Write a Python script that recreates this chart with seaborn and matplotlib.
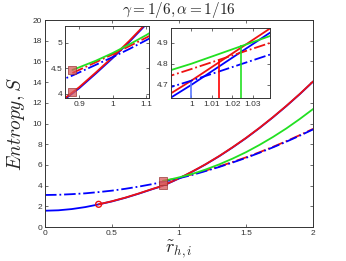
import numpy as np
import matplotlib
matplotlib.use("Agg")
import matplotlib.pyplot as plt
import seaborn as sns

# ---- data ----
x_all = [0, 0.1, 0.2, 0.3, 0.4, 0.5, 0.6, 0.7, 0.8, 0.85, 0.88, 0.9, 0.95,
         1.0, 1.05, 1.1, 1.15, 1.2, 1.3, 1.4, 1.5, 1.6, 1.7, 1.8, 1.9, 2.0]
blue_solid = [1.58, 1.62, 1.74, 1.93, 2.19, 2.48, 2.83, 3.23, 3.66, 3.86, 4.01, 4.11, 4.40,
              4.70, 5.02, 5.36, 5.71, 6.07, 6.85, 7.70, 8.60, 9.57, 10.60, 11.69, 12.84, 14.06]
blue_dash = [3.10, 3.12, 3.18, 3.26, 3.38, 3.52, 3.70, 3.91, 4.15, 4.28, 4.36, 4.42, 4.57,
             4.72, 4.88, 5.05, 5.23, 5.42, 5.81, 6.24, 6.69, 7.18, 7.70, 8.25, 8.83, 9.44]

x_red = [0.4, 0.5, 0.6, 0.7, 0.8, 0.85, 0.88, 0.9, 0.95, 1.0, 1.05, 1.1, 1.15,
         1.2, 1.3, 1.4, 1.5, 1.6, 1.7, 1.8, 1.9, 2.0]
red_solid = [2.20, 2.50, 2.85, 3.25, 3.68, 3.88, 4.03, 4.13, 4.42, 4.72, 5.04, 5.38, 5.73,
             6.09, 6.87, 7.72, 8.62, 9.59, 10.62, 11.71, 12.86, 14.08]

x_up = [0.88, 0.9, 0.95, 1.0, 1.05, 1.1, 1.15, 1.2, 1.3, 1.4, 1.5, 1.6, 1.7, 1.8, 1.9, 2.0]
green_solid = [4.47, 4.52, 4.65, 4.80, 4.97, 5.15, 5.35, 5.57, 6.06, 6.62, 7.24, 7.94,
               8.70, 9.53, 10.44, 11.41]
red_dash = [4.41, 4.47, 4.62, 4.775, 4.935, 5.10, 5.28, 5.47, 5.86, 6.29, 6.74, 7.23,
            7.75, 8.30, 8.88, 9.49]

circle_x, circle_y = [0.4], [2.2]
square_x, square_y = [0.88, 0.88], [4.03, 4.47]

# crossing markers in the right inset
cross_x = [1.0, 1.0135, 1.0245]
cross_y = [4.715, 4.82, 4.89]
cross_col = ["#5a78ff", "red", "#22e022"]

main_xticks = [0, 0.5, 1, 1.5, 2]
main_xlabels = ["0", "0.5", "1", "1.5", "2"]
main_yticks = [0, 2, 4, 6, 8, 10, 12, 14, 16, 18, 20]

in1_xticks, in1_xlabels = [0.9, 1.0, 1.1], ["0.9", "1", "1.1"]
in1_yticks, in1_ylabels = [4, 4.5, 5], ["4", "4.5", "5"]
in2_xticks, in2_xlabels = [1.0, 1.01, 1.02, 1.03], ["1", "1.01", "1.02", "1.03"]
in2_yticks, in2_ylabels = [4.7, 4.8, 4.9], ["4.7", "4.8", "4.9"]

BLUE, RED, GREEN = "#0000ff", "#ee1111", "#22e022"

sns.set_style("ticks")
plt.rcParams["font.family"] = ["Liberation Sans", "DejaVu Sans"]
plt.rcParams["mathtext.fontset"] = "cm"
plt.rcParams["xtick.direction"] = "in"
plt.rcParams["ytick.direction"] = "in"
plt.rcParams["xtick.top"] = True
plt.rcParams["ytick.right"] = True


def draw_curves(ax, lw):
    sns.lineplot(x=x_all, y=blue_solid, ax=ax, color=BLUE, lw=lw, estimator=None, sort=False)
    sns.lineplot(x=x_red, y=red_solid, ax=ax, color=RED, lw=lw, estimator=None, sort=False)
    sns.lineplot(x=x_up, y=red_dash, ax=ax, color=RED, lw=lw, linestyle="-.", estimator=None, sort=False)
    sns.lineplot(x=x_all, y=blue_dash, ax=ax, color=BLUE, lw=lw, linestyle="-.", estimator=None, sort=False)
    sns.lineplot(x=x_up, y=green_solid, ax=ax, color=GREEN, lw=lw, estimator=None, sort=False)
    ax.scatter(square_x, square_y, marker="s", s=28, facecolor=(0.85, 0.35, 0.35, 0.75),
               edgecolor=(0.6, 0.2, 0.2, 0.8), lw=0.6, zorder=5)
    ax.scatter(circle_x, circle_y, marker="o", s=18, facecolor="none", edgecolor=RED, lw=1.0, zorder=5)


def style_axes(ax, size):
    for s in ax.spines.values():
        s.set_linewidth(0.7)
        s.set_color("#333333")
    ax.tick_params(labelsize=size, length=2.5, width=0.5, colors="#333333", pad=2)


fig = plt.figure(figsize=(3.46, 2.61), dpi=100)

ax = fig.add_axes([0.130, 0.130, 0.775, 0.793])
draw_curves(ax, 1.3)
ax.set_xlim(0, 2)
ax.set_ylim(0, 20)
ax.set_xticks(main_xticks, main_xlabels)
ax.set_yticks(main_yticks)
style_axes(ax, 6)
ax.set_xlabel(r"$\tilde{r}_{h,i}$", fontsize=13, labelpad=1)
ax.set_ylabel(r"$Entropy, S$", fontsize=14, labelpad=4)
ax.set_title(r"$\gamma = 1/6, \alpha = 1/16$", fontsize=11, pad=3)

# left inset
ax1 = fig.add_axes([0.188, 0.6245, 0.243, 0.276])
draw_curves(ax1, 1.3)
ax1.set_xlim(0.858, 1.109)
ax1.set_ylim(3.92, 5.33)
ax1.set_xticks(in1_xticks, in1_xlabels)
ax1.set_yticks(in1_yticks, in1_ylabels)
style_axes(ax1, 6)

# right inset
ax2 = fig.add_axes([0.494, 0.6245, 0.286, 0.269])
draw_curves(ax2, 1.3)
ax2.vlines(cross_x, 4.6, cross_y, colors=cross_col, lw=1.2, zorder=4)
ax2.set_xlim(0.990, 1.0385)
ax2.set_ylim(4.638, 4.97)
ax2.set_xticks(in2_xticks, in2_xlabels)
ax2.set_yticks(in2_yticks, in2_ylabels)
style_axes(ax2, 6)

for a in (ax, ax1, ax2):
    a.set_facecolor("white")

fig.savefig("out.png", dpi=100)
